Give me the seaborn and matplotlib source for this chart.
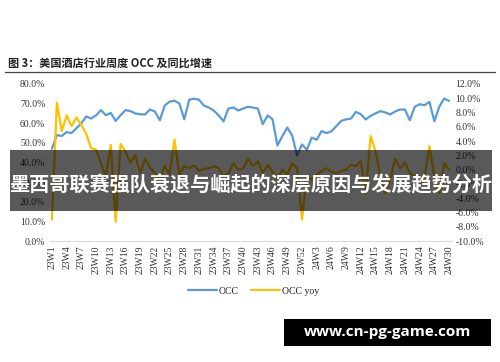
import numpy as np
import pandas as pd
import matplotlib
matplotlib.use('Agg')
import matplotlib.pyplot as plt
import matplotlib.patches as patches
import seaborn as sns

# Weekly labels: 2023 W1..W52, 2024 W1..W30
weeks = ['23W' + str(i) for i in range(1, 53)] + ['24W' + str(i) for i in range(1, 31)]

# OCC (%), left axis
occ = [47, 54, 53.5, 55.5, 55, 57.5, 60, 63.5, 62.4, 64,
       66.7, 64.1, 65.3, 61.2, 64.1, 66.7, 66.2, 65, 64.6, 64.5,
       67, 66, 61.5, 69, 71, 71.5, 70, 62, 72, 72.5,
       72, 69, 68, 66.5, 64, 61, 67.5, 68, 66.5, 67.5,
       68.4, 68, 67.5, 59.5, 64, 62, 48.7, 53.5, 57.8, 53.8,
       43.6, 49.2, 46.5, 52.7, 51.6, 56, 55, 55.9, 58.5, 61.2,
       62, 62.4, 65.8, 64.6, 61.9, 63.8, 65, 66.2, 65.5, 64.5,
       66, 67, 67, 61.5, 68.4, 69.7, 69.2, 70.9, 61, 68.4,
       72.6, 71.4]

# OCC yoy (%), right axis
occ_yoy = [-7, 9.4, 5.4, 7.6, 6.1, 7.3, 6.3, 5.0, 3.0, 2.8,
           0.9, -0.9, 3.5, -7.3, 3.6, 2.5, 1.0, 2.0, -0.5, 1.5,
           0.3, -0.5, -1.2, 0.5, -0.7, 4.2, -0.7, 0.5, 0.2, 0.6,
           -0.2, 0.1, 0.2, 0.5, 0.2, -0.9, -0.5, 0.9, 0.0, 0.2,
           1.5, 0.5, 1.2, -0.5, 0.7, -0.3, -1.2, 0.0, -0.7, 0.9,
           0.2, -7.0, -0.9, -1.4, -0.7, -0.2, 0.2, -0.3, -0.5, -0.2,
           0.0, 0.7, 0.5, 1.2, -3.3, 4.7, 2.6, -0.9, -3.3, -1.4,
           1.5, 0.2, 1.0, -0.5, -0.9, -1.9, -1.0, 3.3, -0.9, -3.3,
           0.9, 0.0]

df = pd.DataFrame({'week': weeks, 'occ': occ, 'occ_yoy': occ_yoy})
df['idx'] = range(len(df))

sns.set_style('white')
plt.rcParams['font.family'] = ['Liberation Serif', 'Noto Sans CJK SC', 'DejaVu Sans']

blue = '#5B9BD5'
yellow = '#FFC000'

fig = plt.figure(figsize=(5, 3.62), dpi=100)
ax = fig.add_axes([0.099, 0.334, 0.804, 0.434])
ax2 = ax.twinx()

sns.lineplot(data=df, x='idx', y='occ', ax=ax, color=blue, linewidth=1.6, label='OCC', legend=False)
sns.lineplot(data=df, x='idx', y='occ_yoy', ax=ax2, color=yellow, linewidth=1.6, label='OCC yoy', legend=False)

ax.set_xlim(-0.5, len(df) - 0.5)
ax.set_ylim(0, 80)
ax2.set_ylim(-10, 12)
ax.set_yticks(np.arange(0, 81, 10))
ax.set_yticklabels(['%.1f%%' % v for v in np.arange(0, 81, 10)])
ax2.set_yticks(np.arange(-10, 13, 2))
ax2.set_yticklabels(['%.1f%%' % v for v in np.arange(-10, 13, 2)])

tick_idx = list(range(0, len(df), 3))
ax.set_xticks(tick_idx)
ax.set_xticklabels([weeks[i] for i in tick_idx], rotation=90)

for a in (ax, ax2):
    a.set_xlabel('')
    a.set_ylabel('')
    for s in a.spines.values():
        s.set_visible(False)
    a.tick_params(length=0, labelsize=7, colors='#333333', pad=3)
ax.spines['bottom'].set_visible(True)
ax.spines['bottom'].set_color('#d9d9d9')
ax.grid(False)
ax2.grid(False)

# legend
h1, l1 = ax.get_legend_handles_labels()
h2, l2 = ax2.get_legend_handles_labels()
fig.legend(h1 + h2, l1 + l2, loc='center', bbox_to_anchor=(0.507, 0.196), ncol=2,
           frameon=False, fontsize=7, handlelength=3, columnspacing=1.2, handletextpad=0.2)

# title and rule
fig.text(0.016, 0.826, '图 3：美国酒店行业周度 OCC 及同比增速', fontsize=8, fontweight='bold',
         family=['Noto Sans CJK SC', 'DejaVu Sans'], color='#222222', va='center')
fig.add_artist(plt.Line2D([0.01, 0.99], [0.801, 0.801], color='#444444', linewidth=0.9))

# banner overlay
fig.add_artist(patches.Rectangle((0.02, 0.417), 0.964, 0.168, transform=fig.transFigure,
                                 facecolor='black', alpha=0.65, edgecolor='none'))
fig.text(0.502, 0.489, '墨西哥联赛强队衰退与崛起的深层原因与发展趋势分析', fontsize=14.5,
         fontweight='bold', family=['Noto Sans CJK SC'], color='white', ha='center', va='center')

# watermark
fig.add_artist(patches.Rectangle((0.568, 0.044), 0.414, 0.075, transform=fig.transFigure,
                                 facecolor='black', edgecolor='none'))
fig.text(0.775, 0.0815, 'www.cn-pg-game.com', fontsize=11, fontweight='bold',
         family=['Open Sans', 'DejaVu Sans'], color='white', ha='center', va='center')

fig.savefig('out.png', dpi=100)
